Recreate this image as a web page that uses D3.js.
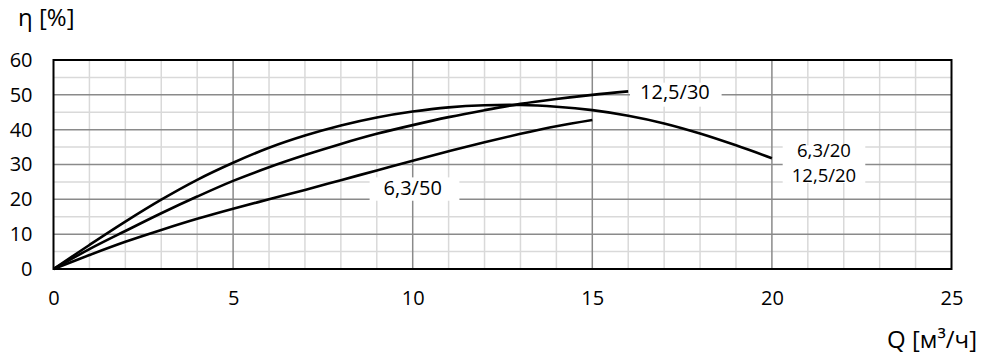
<!DOCTYPE html>
<html>
<head>
<meta charset="utf-8">
<script src="https://cdn.jsdelivr.net/npm/d3@7"></script>
<style>
  html, body { margin: 0; padding: 0; background: #fff; }
  svg { display: block; }
  text { font-family: "Open Sans", sans-serif; fill: #000; }
</style>
</head>
<body>
<svg id="chart" width="982" height="361"></svg>
<script>
// ---- data ----
const qA = [0,1,2,3,4,5,6,7,8,9,10,11,12,13,14,15,16,17,18,19,20];
const etaA = [0,6.9,13.6,19.9,25.6,30.5,34.8,38.3,41.2,43.5,45.2,46.4,47.0,47.1,46.6,45.6,44.0,41.8,38.9,35.5,31.8]; // 6,3/20 ; 12,5/20
const qB = [0,1,2,3,4,5,6,7,8,9,10,11,12,13,14,15,16];
const etaB = [0,5.7,10.9,16.0,20.8,25.3,29.2,32.7,35.9,38.8,41.3,43.6,45.6,47.4,48.8,50.0,51.0]; // 12,5/30
const qC = [0,1,2,3,4,5,6,7,8,9,10,11,12,13,14,15];
const etaC = [0,4.0,7.8,11.2,14.4,17.3,20.0,22.7,25.5,28.3,31.1,33.8,36.4,38.8,41.0,42.8]; // 6,3/50
const xTicks = [0,5,10,15,20,25];
const yTicks = [0,10,20,30,40,50,60];
const xMinor = d3.range(0, 26, 1);
const yMinor = d3.range(0, 61, 5);
const labelA = ["6,3/20", "12,5/20"];
const labelB = "12,5/30";
const labelC = "6,3/50";
const yTitle = "η [%]";
const xTitle = "Q [м³/ч]";

// ---- layout ----
const svg = d3.select("#chart");
const L = 53.5, R = 951.5, T = 60, B = 269;
const x = d3.scaleLinear().domain([0,25]).range([L,R]);
const y = d3.scaleLinear().domain([0,60]).range([B,T]);

// minor grid
const g = svg.append("g");
g.selectAll(".vminor").data(xMinor.filter(v => v % 5 !== 0)).join("line")
  .attr("x1", d => x(d)).attr("x2", d => x(d)).attr("y1", T).attr("y2", B)
  .attr("stroke", "#d9d9d9").attr("stroke-width", 1.5);
g.selectAll(".hminor").data(yMinor.filter(v => v % 10 !== 0)).join("line")
  .attr("x1", L).attr("x2", R).attr("y1", d => y(d)).attr("y2", d => y(d))
  .attr("stroke", "#d9d9d9").attr("stroke-width", 1.5);
// major grid
g.selectAll(".vmajor").data(xTicks.slice(1,-1)).join("line")
  .attr("x1", d => x(d)).attr("x2", d => x(d)).attr("y1", T).attr("y2", B)
  .attr("stroke", "#8a8a8a").attr("stroke-width", 1.5);
g.selectAll(".hmajor").data(yTicks.slice(1,-1)).join("line")
  .attr("x1", L).attr("x2", R).attr("y1", d => y(d)).attr("y2", d => y(d))
  .attr("stroke", "#8a8a8a").attr("stroke-width", 1.5);

// label boxes (white, covering grid)
function box(x0, y0, x1, y1) {
  svg.append("rect").attr("x", x0).attr("y", y0).attr("width", x1 - x0).attr("height", y1 - y0).attr("fill", "#fff");
}
box(x(16.05), y(53.5), x(18.6), y(46.6));
box(x(20.3), y(35.5), x(22.6), y(24.7));
box(x(8.8), y(26.3), x(11.3), y(19.6));

// curves
const line = d3.line().x(d => x(d[0])).y(d => y(d[1])).curve(d3.curveCatmullRom.alpha(0.5));
const series = [
  d3.zip(qA, etaA),
  d3.zip(qB, etaB),
  d3.zip(qC, etaC)
];
svg.selectAll(".curve").data(series).join("path")
  .attr("d", line).attr("fill", "none").attr("stroke", "#000").attr("stroke-width", 2.6)
  .attr("stroke-linejoin", "round");

// frame
svg.append("rect").attr("x", L).attr("y", T).attr("width", R - L).attr("height", B - T)
  .attr("fill", "none").attr("stroke", "#000").attr("stroke-width", 2);

// axes via d3 axis generators (text only)
const fs = 20;
const xAxis = svg.append("g").attr("transform", `translate(0,${B})`)
  .call(d3.axisBottom(x).tickValues(xTicks).tickSize(0).tickPadding(22).tickFormat(d3.format("d")));
xAxis.select(".domain").remove();
xAxis.selectAll("text").attr("font-size", fs).attr("font-family", "Open Sans").attr("fill", "#000");

const yAxis = svg.append("g").attr("transform", `translate(${L},0)`)
  .call(d3.axisLeft(y).tickValues(yTicks).tickSize(0).tickPadding(21).tickFormat(d3.format("d")));
yAxis.select(".domain").remove();
yAxis.selectAll("text").attr("font-size", fs).attr("font-family", "Open Sans").attr("fill", "#000");

// titles
svg.append("text").attr("x", 18).attr("y", 26).attr("font-size", 24).text(yTitle);
svg.append("text").attr("x", 977).attr("y", 348).attr("text-anchor", "end").attr("font-size", 24).text(xTitle);

// curve labels
svg.append("text").attr("x", x(17.3)).attr("y", y(50.7)).attr("text-anchor", "middle")
  .attr("dy", "0.35em").attr("font-size", fs).text(labelB);
labelA.forEach((t, i) => {
  svg.append("text").attr("x", x(21.45)).attr("y", 150.5 + i * 25.5)
    .attr("text-anchor", "middle").attr("dy", "0.35em").attr("font-size", 18.5).text(t);
});
svg.append("text").attr("x", x(10)).attr("y", y(23.2)).attr("text-anchor", "middle")
  .attr("dy", "0.35em").attr("font-size", fs).text(labelC);
</script>
</body>
</html>
